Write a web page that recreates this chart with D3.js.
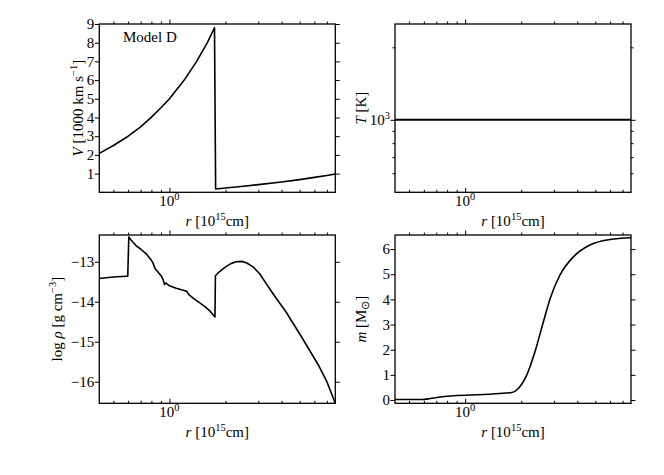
<!DOCTYPE html>
<html><head><meta charset="utf-8">
<script src="https://cdn.jsdelivr.net/npm/d3@7"></script>
<style>
body{margin:0;background:#fff;}
svg{display:block;}
text{font-family:"Liberation Serif","Times New Roman",serif;fill:#000;}
</style></head><body>
<svg id="c" width="664" height="475"></svg>
<script>
// ---- data ----
const rDomain = [0.42, 7.77];
const rMajor = [1];
const rMinor = [0.5, 0.6, 0.7, 0.8, 0.9, 2, 3, 4, 5, 6, 7];

// Velocity (1000 km/s)
const rV = [0.42, 0.5, 0.6, 0.7, 0.8, 0.9, 1.0, 1.2, 1.4, 1.6, 1.745, 1.77, 2.0, 2.5, 3.0, 4.0, 5.0, 6.0, 7.0, 7.77];
const V  = [2.08, 2.5, 3.0, 3.5, 4.02, 4.52, 5.0, 6.0, 7.0, 8.02, 8.8, 0.18, 0.23, 0.32, 0.41, 0.55, 0.68, 0.8, 0.9, 0.98];
const vTicks = [1, 2, 3, 4, 5, 6, 7, 8, 9];
const vDomain = [0, 9];

// Temperature (K)
const rT = [0.42, 7.77];
const T  = [1000, 1000];
const tDomain = [500, 2500];
const tMajor = [1000];
const tMinor = [600, 700, 800, 900, 2000];

// log density
const rRho = [0.42, 0.5, 0.586, 0.597, 0.605, 0.62, 0.663, 0.70, 0.75, 0.79, 0.814, 0.84, 0.87, 0.905, 0.925, 0.94, 0.955, 1.0, 1.086, 1.2, 1.24, 1.27, 1.35, 1.45, 1.55, 1.64, 1.755, 1.765, 1.85, 2.01, 2.15, 2.28, 2.45, 2.6, 2.8, 3.05, 3.3, 3.7, 4.22, 4.7, 5.18, 5.8, 6.37, 7.0, 7.77];
const rho  = [-13.42, -13.38, -13.36, -13.36, -12.38, -12.45, -12.6, -12.68, -12.8, -12.93, -13.02, -13.18, -13.26, -13.36, -13.45, -13.57, -13.53, -13.6, -13.66, -13.72, -13.74, -13.82, -13.92, -14.02, -14.12, -14.22, -14.38, -13.35, -13.25, -13.12, -13.04, -13.0, -12.99, -13.03, -13.12, -13.3, -13.54, -13.88, -14.25, -14.6, -14.92, -15.3, -15.62, -16.0, -16.54];
const rhoTicks = [-13, -14, -15, -16];
const rhoDomain = [-16.54, -12.33];

// Enclosed mass (Msun)
const rM = [0.42, 0.586, 0.65, 0.705, 0.866, 1.25, 1.6, 1.78, 1.93, 2.14, 2.37, 2.63, 2.86, 3.23, 3.81, 4.67, 5.99, 7.77];
const M  = [0.02, 0.02, 0.06, 0.1, 0.17, 0.22, 0.27, 0.3, 0.46, 0.99, 1.92, 3.11, 4.04, 4.97, 5.69, 6.16, 6.38, 6.45];
const mTicks = [0, 1, 2, 3, 4, 5, 6];
const mDomain = [-0.13, 6.56];

// ---- drawing ----
const svg = d3.select('#c');
const FS = 15;

function sup(t, parts){
  let shift = 0;
  parts.forEach(([s, k]) => {
    const ts = t.append('tspan').text(s);
    if (k === 'i') ts.attr('font-style','italic');
    let target = 0;
    if (k === 'sup') target = -6;
    if (k === 'sub') target = 3;
    if (target !== shift) { ts.attr('dy', target - shift); shift = target; }
    if (k === 'sup' || k === 'sub') ts.attr('font-size', 10.5);
  });
}

function panel(p){
  const g = svg.append('g');
  const x = d3.scaleLog().domain(rDomain).range([p.x0, p.x1]);
  const y = (p.ylog ? d3.scaleLog() : d3.scaleLinear()).domain(p.ydom).range([p.y1, p.y0]);
  const major = 4.5, minor = 2.5;
  const ax = (axisFn, scale, vals, len, tr) => {
    const a = g.append('g').attr('transform', tr)
      .call(axisFn(scale).tickValues(vals).tickSizeInner(-len).tickSizeOuter(0).tickFormat(() => ''));
    a.select('.domain').remove();
    a.selectAll('line').attr('stroke', '#000').attr('stroke-width', 1);
  };
  ax(d3.axisBottom, x, rMajor, major, `translate(0,${p.y1})`);
  ax(d3.axisBottom, x, rMinor, minor, `translate(0,${p.y1})`);
  ax(d3.axisTop, x, rMajor, -major, `translate(0,${p.y0})`);
  ax(d3.axisTop, x, rMinor, -minor, `translate(0,${p.y0})`);
  ax(d3.axisLeft, y, p.yMajor, -major, `translate(${p.x0},0)`);
  ax(d3.axisRight, y, p.yMajor, -major, `translate(${p.x1},0)`);
  if (p.yMinor) {
    ax(d3.axisLeft, y, p.yMinor, -minor, `translate(${p.x0},0)`);
    ax(d3.axisRight, y, p.yMinor, -minor, `translate(${p.x1},0)`);
  }
  const line = d3.line().x(d => x(d[0])).y(d => y(d[1])).curve(p.curve || d3.curveLinear);
  g.append('path').datum(d3.zip(p.xs, p.ys)).attr('d', line)
    .attr('fill', 'none').attr('stroke', '#000').attr('stroke-width', p.lw || 1.6)
    .attr('stroke-linejoin', 'round');
  g.append('rect').attr('x', p.x0).attr('y', p.y0).attr('width', p.x1 - p.x0).attr('height', p.y1 - p.y0)
    .attr('fill', 'none').attr('stroke', '#000').attr('stroke-width', 1.3);
  rMajor.forEach(v => {
    const t = g.append('text').attr('x', x(v)).attr('y', p.y1 + 13.5).attr('text-anchor', 'middle').attr('font-size', FS);
    sup(t, [['10','n'], ['0','sup']]);
  });
  p.yMajor.forEach(v => {
    const t = g.append('text').attr('x', p.x0 - 5).attr('y', y(v)).attr('dy', '0.35em')
      .attr('text-anchor', 'end').attr('font-size', FS);
    if (p.ylog) sup(t, [['10','n'], [String(Math.round(Math.log10(v))),'sup']]);
    else t.text(v < 0 ? '\u2212' + Math.abs(v) : String(v));
  });
  const xl = g.append('text').attr('x', (p.x0 + p.x1) / 2).attr('y', p.y1 + 34)
    .attr('text-anchor', 'middle').attr('font-size', FS);
  sup(xl, [['r','i'], [' [10','n'], ['15','sup'], ['cm]','n']]);
  const yl = g.append('text').attr('transform', `translate(${p.ylx},${(p.y0 + p.y1) / 2}) rotate(-90)`)
    .attr('text-anchor', 'middle').attr('font-size', FS);
  sup(yl, p.ylabel);
  return {g, x, y};
}

const TL = panel({x0:99.3, x1:335.3, y0:24, y1:192.3, ydom:vDomain, yMajor:vTicks,
  xs:rV, ys:V, ylx:83, ylabel:[['V','i'], [' [1000 km s','n'], ['\u22121','sup'], [']','n']]});
TL.g.append('text').attr('x', 123).attr('y', 41.5).attr('font-size', FS).text('Model D');

panel({x0:395, x1:631, y0:24, y1:192.3, ylog:true, ydom:tDomain, yMajor:tMajor, yMinor:tMinor,
  xs:rT, ys:T, lw:2, ylx:366, ylabel:[['T','i'], [' [K]','n']]});

panel({x0:99.3, x1:335.3, y0:235, y1:403.3, ydom:rhoDomain, yMajor:rhoTicks,
  xs:rRho, ys:rho, ylx:62, ylabel:[['log ','n'], ['\u03c1','i'], [' [g cm','n'], ['\u22123','sup'], [']','n']]});

panel({x0:395, x1:631, y0:235, y1:403.3, ydom:mDomain, yMajor:mTicks,
  xs:rM, ys:M, curve:d3.curveMonotoneX, ylx:366, ylabel:[['m','i'], [' [M','n'], ['\u2299','sub'], [']','n']]});
</script>
</body></html>
